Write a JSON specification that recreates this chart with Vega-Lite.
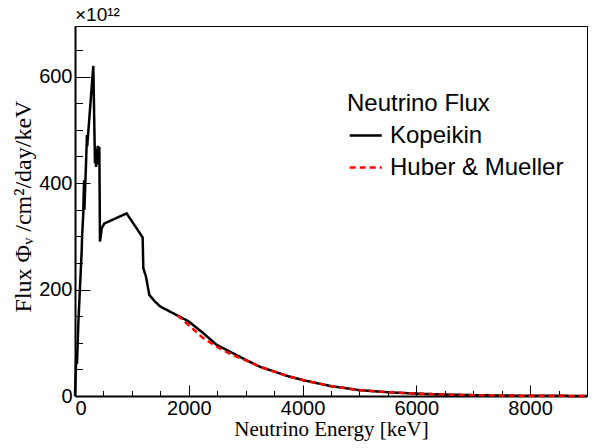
{
  "$schema": "https://vega.github.io/schema/vega-lite/v6.json",
  "width": 512,
  "height": 370,
  "autosize": {"type": "none"},
  "padding": {"left": 75, "top": 26, "right": 15, "bottom": 52},
  "background": "white",
  "title": {"text": "×10¹²", "anchor": "start", "frame": "group", "font": "Liberation Sans", "fontSize": 19, "fontWeight": "normal", "color": "black", "offset": 1},
  "config": {
    "view": {"stroke": "black", "strokeWidth": 1},
    "axis": {"grid": false, "domainColor": "black", "domainWidth": 2, "tickColor": "black", "tickWidth": 1, "labelColor": "black", "titleColor": "black"}
  },
  "data": {"values": [
    {"energy": 0, "flux": 0, "model": "Kopeikin"},
    {"energy": 25, "flux": 85, "model": "Kopeikin"},
    {"energy": 35, "flux": 60, "model": "Kopeikin"},
    {"energy": 60, "flux": 140, "model": "Kopeikin"},
    {"energy": 118, "flux": 274, "model": "Kopeikin"},
    {"energy": 125, "flux": 300, "model": "Kopeikin"},
    {"energy": 146, "flux": 343, "model": "Kopeikin"},
    {"energy": 150, "flux": 370, "model": "Kopeikin"},
    {"energy": 160, "flux": 405, "model": "Kopeikin"},
    {"energy": 165, "flux": 350, "model": "Kopeikin"},
    {"energy": 193, "flux": 434, "model": "Kopeikin"},
    {"energy": 210, "flux": 490, "model": "Kopeikin"},
    {"energy": 215, "flux": 470, "model": "Kopeikin"},
    {"energy": 322, "flux": 620, "model": "Kopeikin"},
    {"energy": 351, "flux": 437, "model": "Kopeikin"},
    {"energy": 360, "flux": 460, "model": "Kopeikin"},
    {"energy": 370, "flux": 430, "model": "Kopeikin"},
    {"energy": 380, "flux": 465, "model": "Kopeikin"},
    {"energy": 390, "flux": 440, "model": "Kopeikin"},
    {"energy": 400, "flux": 470, "model": "Kopeikin"},
    {"energy": 410, "flux": 435, "model": "Kopeikin"},
    {"energy": 420, "flux": 460, "model": "Kopeikin"},
    {"energy": 428, "flux": 468, "model": "Kopeikin"},
    {"energy": 439, "flux": 290, "model": "Kopeikin"},
    {"energy": 470, "flux": 315, "model": "Kopeikin"},
    {"energy": 515, "flux": 324, "model": "Kopeikin"},
    {"energy": 908, "flux": 343, "model": "Kopeikin"},
    {"energy": 1189, "flux": 298, "model": "Kopeikin"},
    {"energy": 1201, "flux": 240, "model": "Kopeikin"},
    {"energy": 1248, "flux": 224, "model": "Kopeikin"},
    {"energy": 1306, "flux": 190, "model": "Kopeikin"},
    {"energy": 1400, "flux": 178, "model": "Kopeikin"},
    {"energy": 1500, "flux": 168, "model": "Kopeikin"},
    {"energy": 1787, "flux": 152, "model": "Kopeikin"},
    {"energy": 2000, "flux": 140, "model": "Kopeikin"},
    {"energy": 2255, "flux": 118, "model": "Kopeikin"},
    {"energy": 2490, "flux": 96, "model": "Kopeikin"},
    {"energy": 2783, "flux": 80, "model": "Kopeikin"},
    {"energy": 3000, "flux": 68, "model": "Kopeikin"},
    {"energy": 3250, "flux": 55, "model": "Kopeikin"},
    {"energy": 3500, "flux": 46, "model": "Kopeikin"},
    {"energy": 3750, "flux": 37, "model": "Kopeikin"},
    {"energy": 4000, "flux": 30, "model": "Kopeikin"},
    {"energy": 4500, "flux": 18.5, "model": "Kopeikin"},
    {"energy": 5000, "flux": 11, "model": "Kopeikin"},
    {"energy": 5500, "flux": 7, "model": "Kopeikin"},
    {"energy": 6000, "flux": 4.5, "model": "Kopeikin"},
    {"energy": 6500, "flux": 2.7, "model": "Kopeikin"},
    {"energy": 7000, "flux": 1.6, "model": "Kopeikin"},
    {"energy": 7500, "flux": 0.9, "model": "Kopeikin"},
    {"energy": 8000, "flux": 0.5, "model": "Kopeikin"},
    {"energy": 8500, "flux": 0.3, "model": "Kopeikin"},
    {"energy": 9000, "flux": 0.1, "model": "Kopeikin"},
    {"energy": 1800, "flux": 152, "model": "Huber & Mueller"},
    {"energy": 2000, "flux": 133, "model": "Huber & Mueller"},
    {"energy": 2250, "flux": 109, "model": "Huber & Mueller"},
    {"energy": 2500, "flux": 92, "model": "Huber & Mueller"},
    {"energy": 2750, "flux": 78, "model": "Huber & Mueller"},
    {"energy": 3000, "flux": 67, "model": "Huber & Mueller"},
    {"energy": 3250, "flux": 55, "model": "Huber & Mueller"},
    {"energy": 3500, "flux": 46, "model": "Huber & Mueller"},
    {"energy": 3750, "flux": 37, "model": "Huber & Mueller"},
    {"energy": 4000, "flux": 30, "model": "Huber & Mueller"},
    {"energy": 4500, "flux": 18.5, "model": "Huber & Mueller"},
    {"energy": 5000, "flux": 11, "model": "Huber & Mueller"},
    {"energy": 5500, "flux": 7, "model": "Huber & Mueller"},
    {"energy": 6000, "flux": 4.5, "model": "Huber & Mueller"},
    {"energy": 6500, "flux": 2.7, "model": "Huber & Mueller"},
    {"energy": 7000, "flux": 1.6, "model": "Huber & Mueller"},
    {"energy": 7500, "flux": 0.9, "model": "Huber & Mueller"},
    {"energy": 8000, "flux": 0.5, "model": "Huber & Mueller"},
    {"energy": 8500, "flux": 0.3, "model": "Huber & Mueller"},
    {"energy": 9000, "flux": 0.1, "model": "Huber & Mueller"}
  ]},
  "resolve": {"axis": {"x": "independent", "y": "independent"}},
  "layer": [
    {
      "mark": {"type": "point", "opacity": 0},
      "encoding": {
        "x": {"field": "energy", "type": "quantitative", "scale": {"domain": [0, 9000], "nice": false, "zero": false},
          "axis": {"orient": "bottom", "values": [500, 1000, 1500, 2500, 3000, 3500, 4500, 5000, 5500, 6500, 7000, 7500, 8500], "labels": false, "domain": false, "tickSize": -5.5, "title": null}},
        "y": {"field": "flux", "type": "quantitative", "scale": {"domain": [0, 695], "nice": false, "zero": false},
          "axis": {"orient": "left", "values": [50, 100, 150, 250, 300, 350, 450, 500, 550, 650], "labels": false, "domain": false, "tickSize": -7.5, "title": null}}
      }
    },
    {
      "mark": {"type": "line", "strokeWidth": 2.5},
      "encoding": {
        "x": {"field": "energy", "type": "quantitative", "scale": {"domain": [0, 9000], "nice": false, "zero": false},
          "axis": {"orient": "bottom", "values": [0, 2000, 4000, 6000, 8000], "format": "d", "tickSize": -11, "labelFont": "Liberation Sans", "labelFontSize": 20, "labelPadding": 13, "title": "Neutrino Energy [keV]", "titleFont": "Liberation Serif", "titleFontSize": 21, "titleFontWeight": "normal", "titlePadding": 0}},
        "y": {"field": "flux", "type": "quantitative", "scale": {"domain": [0, 695], "nice": false, "zero": false},
          "axis": {"orient": "left", "values": [0, 200, 400, 600], "format": "d", "tickSize": -15, "labelFont": "Liberation Sans", "labelFontSize": 20, "labelPadding": 18, "title": "Flux Φᵥ /cm²/day/keV", "titleFont": "Liberation Serif", "titleFontSize": 24, "titleFontWeight": "normal", "titlePadding": 3, "titleY": 180}},
        "color": {"field": "model", "type": "nominal", "scale": {"domain": ["Kopeikin", "Huber & Mueller"], "range": ["black", "#ff0000"]},
          "legend": {"orient": "none", "legendX": 272, "legendY": 66, "title": "Neutrino Flux", "titleFont": "Liberation Sans", "titleFontSize": 24, "titleFontWeight": "normal", "titleColor": "black", "titlePadding": 6, "titleLimit": 400, "labelFont": "Liberation Sans", "labelFontSize": 24, "labelColor": "black", "labelOffset": 16, "labelLimit": 400, "symbolType": "M-0.9,0H1.77", "symbolSize": 576, "symbolStrokeWidth": 2.5, "rowPadding": 6}},
        "strokeDash": {"field": "model", "type": "nominal", "scale": {"domain": ["Kopeikin", "Huber & Mueller"], "range": [[1, 0], [6, 4]]},
          "legend": {"orient": "none", "legendX": 272, "legendY": 66, "title": "Neutrino Flux", "titleFont": "Liberation Sans", "titleFontSize": 24, "titleFontWeight": "normal", "titleColor": "black", "titlePadding": 6, "titleLimit": 400, "labelFont": "Liberation Sans", "labelFontSize": 24, "labelColor": "black", "labelOffset": 16, "labelLimit": 400, "symbolType": "M-0.9,0H1.77", "symbolSize": 576, "symbolStrokeWidth": 2.5, "rowPadding": 6}}
      }
    }
  ]
}
